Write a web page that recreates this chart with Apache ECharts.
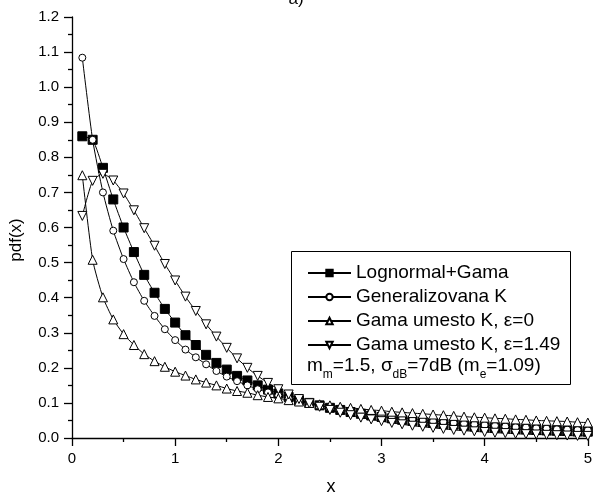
<!DOCTYPE html>
<html>
<head>
<meta charset="utf-8">
<script src="https://cdn.jsdelivr.net/npm/echarts@6/dist/echarts.min.js"></script>
<style>
html,body{margin:0;padding:0;background:#fff;}
#chart{width:595px;height:494px;}
</style>
</head>
<body>
<div id="chart"></div>
<script>
var xs = [0.1,0.2,0.3,0.4,0.5,0.6,0.7,0.8,0.9,1.0,1.1,1.2,1.3,1.4,1.5,1.6,1.7,1.8,1.9,2.0,
          2.1,2.2,2.3,2.4,2.5,2.6,2.7,2.8,2.9,3.0,3.1,3.2,3.3,3.4,3.5,3.6,3.7,3.8,3.9,4.0,
          4.1,4.2,4.3,4.4,4.5,4.6,4.7,4.8,4.9,5.0];
var lognormalGama = [0.86,0.85,0.77,0.68,0.60,0.53,0.465,0.414,0.368,0.329,0.293,0.265,0.237,0.214,0.195,0.177,0.164,0.150,0.138,0.127,
          0.117,0.108,0.100,0.093,0.086,0.080,0.074,0.069,0.064,0.060,0.056,0.052,0.049,0.046,0.043,0.040,0.038,0.035,0.033,0.031,
          0.029,0.028,0.026,0.025,0.023,0.022,0.021,0.020,0.019,0.018];
var generalizovanaK = [1.084,0.85,0.70,0.591,0.510,0.444,0.391,0.348,0.310,0.279,0.252,0.230,0.210,0.191,0.175,0.162,0.150,0.139,0.130,0.121,
          0.113,0.106,0.099,0.093,0.087,0.082,0.077,0.072,0.068,0.064,0.060,0.057,0.054,0.051,0.048,0.046,0.043,0.041,0.039,0.037,
          0.035,0.033,0.031,0.030,0.028,0.027,0.025,0.024,0.023,0.022];
var gamaEps0 = [0.749,0.508,0.401,0.338,0.296,0.265,0.239,0.219,0.203,0.189,0.178,0.167,0.158,0.150,0.141,0.134,0.129,0.122,0.117,0.113,
          0.108,0.104,0.100,0.096,0.093,0.089,0.086,0.083,0.080,0.078,0.075,0.073,0.071,0.069,0.067,0.065,0.063,0.061,0.059,0.058,
          0.056,0.055,0.053,0.052,0.050,0.049,0.048,0.047,0.045,0.044];
var gamaEps149 = [0.633,0.733,0.753,0.734,0.697,0.649,0.598,0.548,0.496,0.449,0.403,0.362,0.324,0.289,0.257,0.227,0.200,0.177,0.157,0.139,
          0.124,0.111,0.099,0.089,0.080,0.072,0.065,0.058,0.053,0.048,0.043,0.039,0.035,0.032,0.029,0.026,0.023,0.021,0.019,0.017,
          0.015,0.014,0.012,0.011,0.010,0.009,0.008,0.007,0.006,0.006];
var seriesNames = ['Lognormal+Gama','Generalizovana K','Gama umesto K, \u03b5=0','Gama umesto K, \u03b5=1.49'];
var yTicks = {min:0, max:1.2, step:0.1};
var xTicks = {min:0, max:5, step:1};

function pairs(v){ return xs.map(function(x,i){ return [x, v[i]]; }); }
var FONT = '"Liberation Sans", Arial, Helvetica, sans-serif';

var chart = echarts.init(document.getElementById('chart'), null, {renderer:'canvas'});

function mk(name, vals, symbol, size, fill, rotate){
  return {
    name: name, type: 'line', data: pairs(vals),
    symbol: symbol, symbolSize: size, symbolRotate: rotate || 0,
    showAllSymbol: true, smooth: 0.2, clip: false,
    lineStyle: {color:'#000', width:1},
    itemStyle: {color: fill, borderColor:'#000', borderWidth:1},
    emphasis: {disabled:true}, animation:false
  };
}

chart.setOption({
  animation: false,
  backgroundColor: '#fff',
  grid: {left:72, right:4, top:17, bottom:56, containLabel:false},
  xAxis: {
    type:'value', min:xTicks.min, max:xTicks.max, interval:xTicks.step,
    axisLine:{show:true, onZero:false, lineStyle:{color:'#000', width:1.3}},
    axisTick:{show:true, length:8, lineStyle:{color:'#000', width:1.3}},
    minorTick:{show:true, splitNumber:2, length:4, lineStyle:{color:'#000', width:1.3}},
    splitLine:{show:false},
    axisLabel:{color:'#000', fontSize:15, fontFamily:FONT, margin:13,
      formatter:function(v){ return String(Math.round(v)); }}
  },
  yAxis: {
    type:'value', min:yTicks.min, max:yTicks.max, interval:yTicks.step,
    axisLine:{show:true, onZero:false, lineStyle:{color:'#000', width:1.3}},
    axisTick:{show:true, length:8, lineStyle:{color:'#000', width:1.3}},
    minorTick:{show:true, splitNumber:2, length:4, lineStyle:{color:'#000', width:1.3}},
    splitLine:{show:false},
    axisLabel:{color:'#000', fontSize:15, fontFamily:FONT, margin:13,
      formatter:function(v){ return v.toFixed(1); }}
  },
  legend: {
    orient:'vertical', left:307, top:261, padding:0, itemGap:0,
    itemWidth:43, itemHeight:8,
    textStyle:{color:'#000', fontSize:19, fontFamily:FONT, lineHeight:24},
    data: seriesNames
  },
  graphic: [
    {type:'rect', z:-1, shape:{x:291.5, y:251.5, width:279, height:133},
     style:{fill:'#fff', stroke:'#000', lineWidth:1}, silent:true},
    {type:'text', left:307, top:356, silent:true,
     style:{
       text:'m{s|m}=1.5, \u03c3{s|dB}=7dB (m{s|e}=1.09)',
       font:'19px ' + FONT, fill:'#000',
       rich:{ s:{fontSize:12, fontFamily:FONT, fill:'#000', verticalAlign:'bottom', lineHeight:30} }
     }},
    {type:'text', silent:true, x:331, y:487,
     style:{text:'x', font:'18px ' + FONT, fill:'#000', align:'center', verticalAlign:'middle'}},
    {type:'text', silent:true, x:16, y:240, rotation:Math.PI/2,
     style:{text:'pdf(x)', font:'17px ' + FONT, fill:'#000', align:'center', verticalAlign:'middle'}},
    {type:'text', silent:true, x:296, y:-1,
     style:{text:'a)', font:'17px ' + FONT, fill:'#000', align:'center', verticalAlign:'middle'}}
  ],
  series: [
    mk(seriesNames[0], lognormalGama, 'rect', 9, '#000', 0),
    mk(seriesNames[1], generalizovanaK, 'circle', 7, '#fff', 0),
    mk(seriesNames[2], gamaEps0, 'triangle', 9, '#fff', 0),
    mk(seriesNames[3], gamaEps149, 'triangle', 9, '#fff', 180)
  ]
});
</script>
</body>
</html>
